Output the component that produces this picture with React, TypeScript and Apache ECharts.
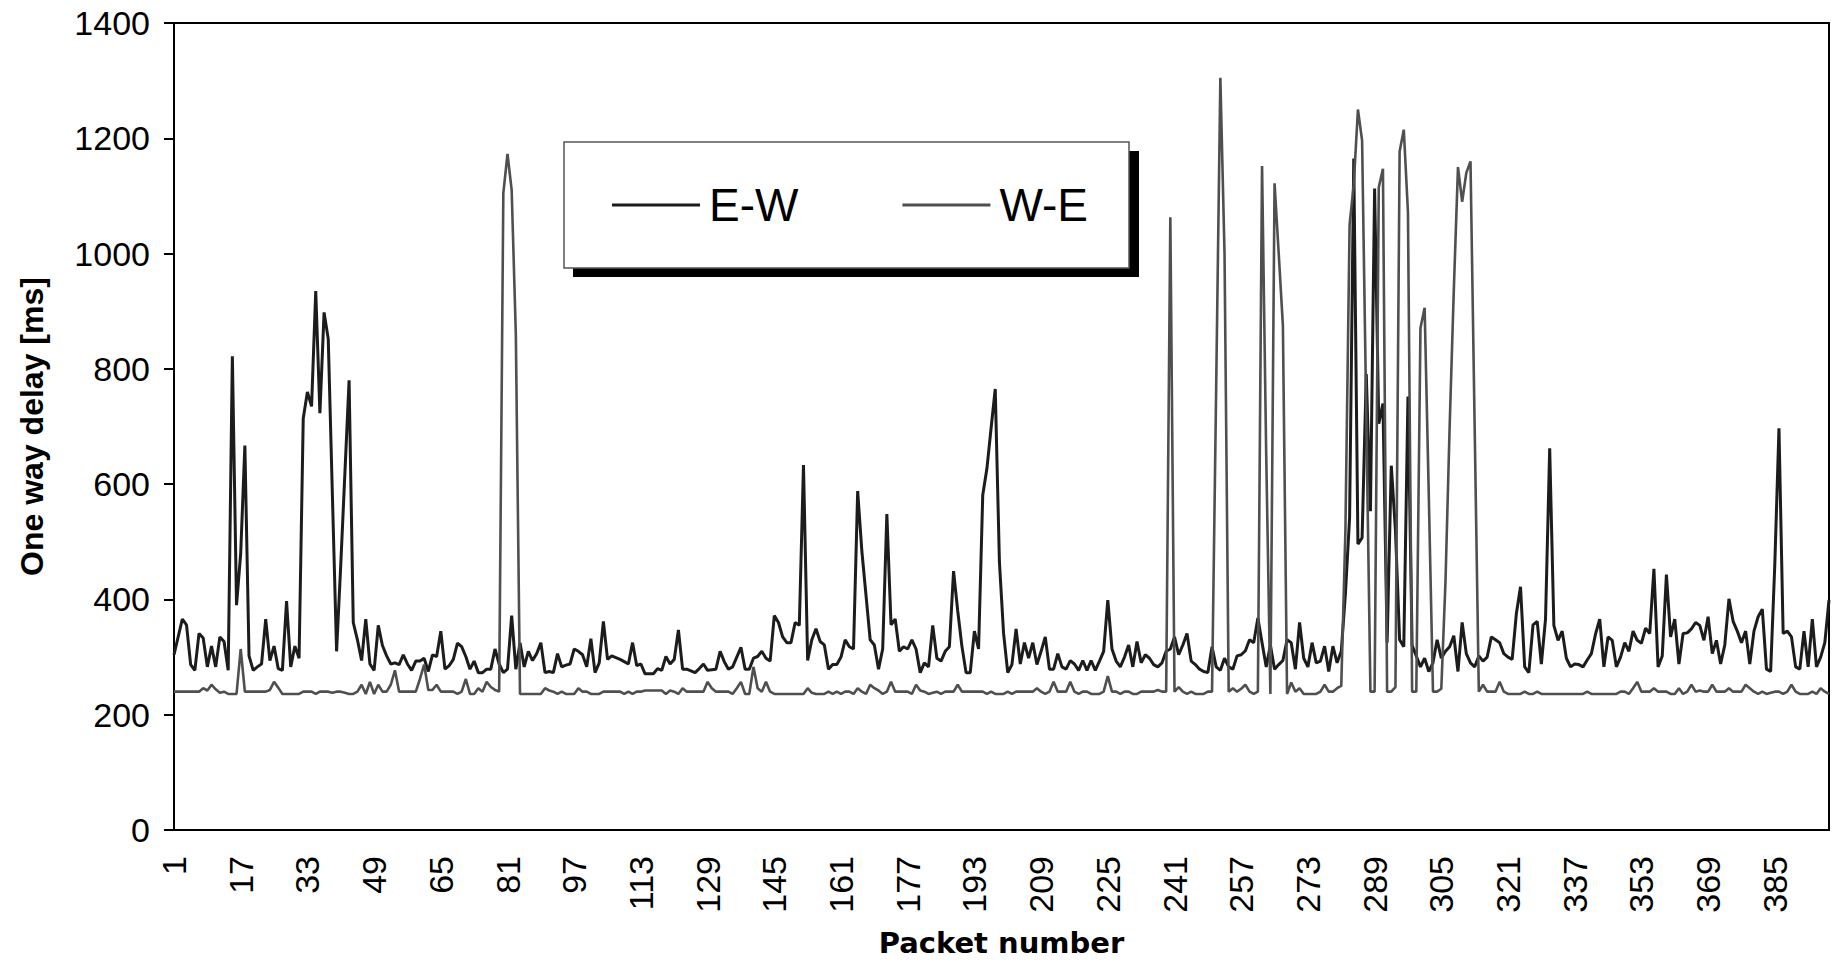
import React, { useEffect, useRef } from "react";
import * as echarts from "echarts";

// packet numbers 1..398 (category axis)
const packets: string[] = Array.from({ length: 398 }, (_, i) => String(i + 1));

// E-W one way delay [ms]
const ewDelay: number[] = [
  304, 335, 366, 356, 287, 277, 341, 333, 283, 319,
  283, 335, 327, 277, 822, 390, 480, 667, 302, 277,
  283, 288, 366, 294, 319, 280, 277, 397, 283, 319,
  298, 714, 760, 735, 935, 723, 898, 852, 580, 310,
  460, 620, 780, 360, 330, 294, 366, 288, 277, 355,
  320, 302, 288, 290, 287, 304, 288, 277, 293, 293,
  298, 275, 304, 301, 345, 279, 285, 296, 324, 318,
  301, 279, 293, 273, 273, 279, 279, 314, 288, 273,
  279, 372, 279, 325, 283, 310, 294, 306, 325, 273,
  275, 273, 306, 283, 286, 288, 314, 310, 304, 283,
  332, 273, 290, 362, 296, 302, 299, 296, 292, 288,
  325, 285, 288, 271, 271, 271, 280, 277, 301, 288,
  296, 347, 279, 279, 276, 273, 280, 288, 277, 278,
  279, 310, 292, 279, 283, 300, 317, 279, 279, 298,
  301, 310, 298, 293, 372, 360, 335, 325, 325, 360,
  355, 633, 294, 330, 349, 327, 321, 279, 287, 287,
  300, 330, 318, 314, 588, 484, 407, 330, 321, 279,
  314, 548, 356, 366, 310, 318, 314, 330, 314, 273,
  290, 283, 355, 298, 293, 310, 318, 449, 380, 319,
  273, 273, 345, 314, 581, 627, 697, 765, 465, 341,
  273, 287, 349, 288, 325, 298, 325, 287, 310, 335,
  279, 279, 306, 283, 279, 294, 288, 277, 294, 277,
  294, 277, 293, 310, 399, 314, 293, 283, 300, 321,
  283, 327, 290, 304, 298, 287, 283, 290, 310, 314,
  335, 304, 321, 341, 293, 287, 279, 275, 273, 318,
  283, 277, 298, 283, 279, 302, 304, 311, 330, 325,
  368, 325, 283, 321, 279, 287, 294, 330, 325, 279,
  360, 298, 283, 325, 290, 293, 319, 275, 319, 290,
  310, 410, 542, 1165, 496, 507, 791, 553, 1113, 705,
  740, 325, 632, 520, 330, 318, 752, 320, 302, 283,
  298, 275, 290, 330, 298, 310, 318, 337, 275, 360,
  306, 290, 283, 302, 293, 300, 335, 330, 325, 306,
  300, 296, 375, 422, 283, 273, 356, 362, 288, 366,
  662, 355, 329, 345, 298, 283, 288, 287, 283, 295,
  306, 340, 366, 283, 335, 329, 283, 300, 325, 310,
  345, 329, 324, 350, 341, 453, 283, 302, 443, 335,
  366, 288, 341, 342, 349, 360, 355, 329, 370, 306,
  329, 288, 321, 401, 362, 345, 325, 345, 288, 345,
  370, 383, 279, 275, 461, 697, 341, 345, 335, 283,
  279, 345, 283, 366, 283, 300, 325, 399,
];

// W-E one way delay [ms]
const weDelay: number[] = [
  240, 240, 240, 240, 240, 240, 240, 246, 242, 252,
  244, 238, 240, 236, 236, 236, 314, 240, 240, 240,
  240, 240, 240, 243, 257, 247, 236, 236, 236, 236,
  236, 240, 240, 240, 236, 240, 240, 240, 238, 240,
  240, 238, 236, 236, 240, 252, 236, 257, 236, 252,
  240, 240, 252, 277, 240, 240, 240, 240, 240, 262,
  287, 243, 243, 252, 240, 240, 240, 240, 236, 240,
  262, 236, 236, 246, 240, 257, 248, 243, 240, 1105,
  1173, 1110, 860, 236, 236, 236, 236, 236, 236, 246,
  242, 240, 236, 240, 236, 236, 236, 246, 240, 240,
  236, 236, 236, 240, 240, 240, 240, 240, 236, 240,
  236, 240, 240, 242, 242, 242, 242, 242, 236, 242,
  240, 236, 246, 240, 240, 240, 240, 240, 257, 246,
  240, 240, 240, 240, 236, 246, 257, 236, 236, 283,
  246, 240, 257, 240, 236, 236, 236, 236, 236, 236,
  236, 236, 246, 238, 236, 236, 236, 240, 236, 240,
  236, 240, 240, 236, 246, 240, 236, 252, 246, 242,
  236, 240, 257, 240, 240, 240, 240, 236, 252, 242,
  240, 236, 238, 240, 236, 240, 240, 240, 252, 240,
  240, 240, 240, 240, 240, 236, 240, 236, 236, 236,
  240, 236, 240, 240, 240, 240, 240, 246, 240, 236,
  240, 257, 240, 240, 240, 257, 240, 236, 240, 240,
  236, 236, 236, 240, 267, 240, 240, 236, 240, 240,
  236, 236, 240, 240, 240, 240, 243, 240, 240, 1063,
  240, 248, 240, 236, 240, 236, 236, 236, 240, 240,
  770, 1305, 1000, 240, 246, 240, 245, 252, 240, 236,
  240, 1152, 650, 236, 1122, 1000, 875, 236, 256, 240,
  246, 236, 236, 236, 236, 240, 252, 240, 240, 246,
  250, 520, 1050, 1120, 1250, 1196, 720, 240, 240, 1115,
  1147, 240, 240, 248, 1177, 1215, 1072, 240, 240, 871,
  906, 580, 240, 240, 245, 430, 700, 937, 1150, 1090,
  1140, 1160, 700, 240, 252, 240, 240, 240, 257, 240,
  236, 236, 236, 236, 240, 236, 236, 240, 236, 236,
  236, 236, 236, 236, 236, 236, 236, 236, 236, 240,
  236, 236, 236, 236, 236, 236, 236, 240, 240, 236,
  246, 257, 240, 240, 240, 246, 240, 240, 240, 236,
  236, 246, 236, 240, 252, 240, 242, 240, 240, 252,
  240, 240, 240, 246, 240, 240, 240, 252, 246, 240,
  236, 240, 236, 238, 240, 240, 236, 240, 252, 240,
  236, 236, 236, 240, 236, 246, 240, 236,
];

const seriesNames = ["E-W", "W-E"];
const seriesColors = ["#1c1c1c", "#4f4f4f"];

export default function App() {
  const ref = useRef<HTMLDivElement>(null);

  useEffect(() => {
    if (!ref.current) return;
    const chart = echarts.init(ref.current, null, { renderer: "svg" });
    chart.setOption({
      animation: false,
      backgroundColor: "#ffffff",
      grid: {
        left: 174,
        right: 8,
        top: 23,
        bottom: 130,
        show: true,
        borderColor: "#000",
        borderWidth: 2,
        backgroundColor: "transparent",
      },
      graphic: [
        {
          type: "rect",
          z: 3,
          shape: { x: 573, y: 151, width: 566, height: 126 },
          style: { fill: "#000" },
        },
        {
          type: "rect",
          z: 3,
          shape: { x: 564, y: 142, width: 565, height: 126 },
          style: { fill: "#fff", stroke: "#555", lineWidth: 1.5 },
        },
      ],
      legend: {
        data: seriesNames,
        left: 612,
        top: 180,
        padding: 0,
        z: 10,
        icon: "rect",
        itemWidth: 88,
        itemHeight: 3,
        itemGap: 104,
        textStyle: {
          fontSize: 46,
          fontFamily: "Liberation Sans, Arial, sans-serif",
          color: "#000",
          lineHeight: 50,
          padding: [0, 0, 0, 4],
        },
      },
      xAxis: {
        type: "category",
        data: packets,
        boundaryGap: false,
        axisLine: { lineStyle: { color: "#000", width: 2 } },
        axisTick: { show: false },
        splitLine: { show: false },
        axisLabel: {
          interval: 15,
          rotate: 90,
          margin: 26,
          fontSize: 34,
          fontFamily: "Liberation Sans, Arial, sans-serif",
          color: "#000",
        },
        name: "Packet number",
        nameLocation: "middle",
        nameGap: 98,
        nameTextStyle: {
          fontSize: 29,
          fontWeight: "bold",
          fontFamily: "DejaVu Sans, sans-serif",
          color: "#000",
        },
      },
      yAxis: {
        type: "value",
        min: 0,
        max: 1400,
        interval: 200,
        axisLine: { show: true, lineStyle: { color: "#000", width: 2 } },
        axisTick: { show: true, length: 10, lineStyle: { color: "#000", width: 2 } },
        splitLine: { show: false },
        axisLabel: {
          margin: 24,
          fontSize: 34,
          fontFamily: "Liberation Sans, Arial, sans-serif",
          color: "#000",
          formatter: (v: number) => String(v),
        },
        name: "One way delay [ms]",
        nameLocation: "middle",
        nameRotate: 90,
        nameGap: 126,
        nameTextStyle: {
          fontSize: 32,
          fontWeight: "bold",
          fontFamily: "Liberation Sans, Arial, sans-serif",
          color: "#000",
        },
      },
      series: [
        {
          name: seriesNames[0],
          type: "line",
          data: ewDelay,
          symbol: "none",
          z: 2,
          lineStyle: { color: seriesColors[0], width: 3 },
          itemStyle: { color: seriesColors[0] },
        },
        {
          name: seriesNames[1],
          type: "line",
          data: weDelay,
          symbol: "none",
          z: 3,
          lineStyle: { color: seriesColors[1], width: 2.6 },
          itemStyle: { color: seriesColors[1] },
        },
      ],
    });
    return () => chart.dispose();
  }, []);

  return (
    <div
      ref={ref}
      style={{ position: "fixed", left: 0, top: 0, width: "1837px", height: "962px" }}
    />
  );
}
